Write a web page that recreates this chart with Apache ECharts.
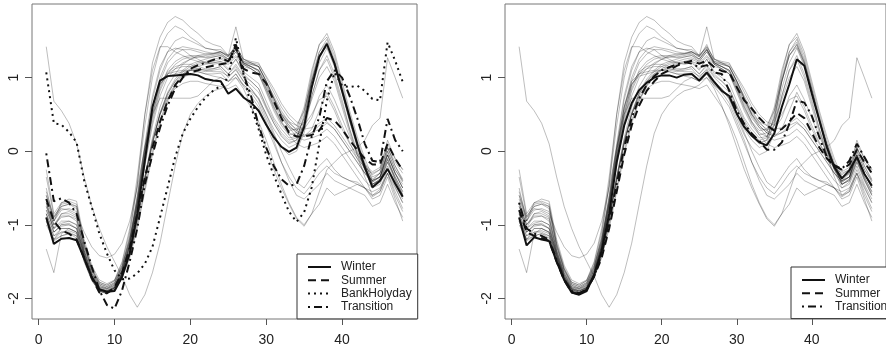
<!DOCTYPE html>
<html>
<head>
<meta charset="utf-8">
<title>Daily load profiles</title>
<script src="https://cdn.jsdelivr.net/npm/echarts@6/dist/echarts.min.js"></script>
<style>
  html, body { margin: 0; padding: 0; background: #fff; }
  #chart { width: 886px; height: 350px; }
</style>
</head>
<body>
<div id="chart"></div>
<script>
// half-hour slots of the day
var slots = [1,2,3,4,5,6,7,8,9,10,11,12,13,14,15,16,17,18,19,20,21,22,23,24,
             25,26,27,28,29,30,31,32,33,34,35,36,37,38,39,40,41,42,43,44,45,46,47,48];
var xTicks = [0, 10, 20, 30, 40];
var yTicks = [-2, -1, 0, 1];

// ------------- left panel: class means -------------
var winterL = [-0.90,-1.26,-1.19,-1.18,-1.21,-1.46,-1.71,-1.88,-1.91,-1.90,-1.71,-1.39,
               -0.85,-0.13,0.60,0.96,1.02,1.03,1.04,1.05,1.03,0.98,0.96,0.95,
               0.78,0.85,0.73,0.66,0.55,0.36,0.19,0.06,-0.01,0.05,0.33,0.87,
               1.28,1.46,1.19,0.82,0.46,0.10,-0.22,-0.49,-0.40,-0.24,-0.44,-0.62];
var summerL = [-0.65,-0.95,-1.08,-1.12,-1.20,-1.45,-1.72,-1.92,-1.93,-1.85,-1.65,-1.32,
               -0.85,-0.35,0.05,0.40,0.68,0.90,1.03,1.07,1.10,1.14,1.16,1.18,
               1.20,1.45,1.12,1.07,1.05,0.92,0.68,0.45,0.25,0.20,0.20,0.22,
               0.28,0.45,0.42,0.30,0.15,0.02,-0.10,-0.18,-0.18,0.10,-0.10,-0.26];
var bankL = [1.07,0.38,0.36,0.26,0.12,-0.40,-0.76,-1.12,-1.39,-1.62,-1.74,-1.73,
             -1.66,-1.53,-1.30,-0.90,-0.49,-0.08,0.24,0.44,0.60,0.73,0.82,0.89,
             1.00,1.54,1.07,0.60,0.30,-0.05,-0.33,-0.58,-0.82,-0.96,-0.83,-0.49,
             0.10,0.69,1.07,0.89,0.87,0.89,0.82,0.71,0.69,1.48,1.23,0.94];
var transL = [-0.03,-0.68,-0.64,-0.70,-0.85,-1.22,-1.57,-1.89,-2.09,-2.14,-1.89,-1.50,
              -1.05,-0.45,-0.05,0.32,0.62,0.85,1.00,1.12,1.17,1.20,1.24,1.27,
              1.22,1.42,1.05,0.75,0.35,0.05,-0.20,-0.38,-0.47,-0.45,-0.20,0.20,
              0.46,0.95,1.10,1.00,0.75,0.45,0.10,-0.13,-0.15,0.44,0.15,0.00];

// ------------- right panel: class means -------------
var winterR = [-0.90,-1.28,-1.17,-1.20,-1.22,-1.50,-1.75,-1.92,-1.95,-1.90,-1.68,-1.35,
               -0.85,-0.15,0.35,0.65,0.83,0.93,1.00,1.03,1.03,1.00,1.04,1.05,
               0.96,1.07,0.94,0.82,0.75,0.51,0.33,0.21,0.12,0.08,0.24,0.60,
               0.91,1.25,1.16,0.78,0.42,0.05,-0.22,-0.37,-0.26,-0.08,-0.31,-0.47];
var summerR = [-0.80,-1.10,-1.15,-1.18,-1.22,-1.50,-1.75,-1.92,-1.94,-1.88,-1.70,-1.45,
               -1.05,-0.55,-0.05,0.35,0.62,0.82,0.95,1.05,1.10,1.16,1.20,1.23,
               1.19,1.23,1.14,1.09,1.07,0.87,0.69,0.58,0.45,0.35,0.28,0.30,
               0.40,0.52,0.45,0.25,0.05,-0.10,-0.20,-0.25,-0.18,0.02,-0.15,-0.30];
var transR = [-0.70,-1.05,-1.12,-1.15,-1.20,-1.48,-1.74,-1.90,-1.93,-1.88,-1.70,-1.40,
              -0.95,-0.45,0.05,0.45,0.72,0.90,1.02,1.10,1.14,1.18,1.21,1.19,
              1.14,1.17,1.07,1.05,0.82,0.55,0.37,0.24,0.14,0.02,0.02,0.12,
              0.37,0.69,0.66,0.48,0.19,-0.08,-0.19,-0.24,-0.13,0.10,-0.08,-0.26];

// ------------- individual days (grey, same in both panels) -------------
var grayDays = [
  [-0.85,-1.22,-1.15,-1.12,-1.18,-1.45,-1.72,-1.88,-1.92,-1.88,-1.68,-1.30, -0.70,0.00,0.60,0.95,1.05,1.08,1.10,1.10,1.08,1.05,1.05,1.06, 0.95,1.05,0.90,0.82,0.72,0.50,0.30,0.15,0.05,0.10,0.40,0.95, 1.35,1.52,1.25,0.85,0.45,0.10,-0.20,-0.45,-0.40,-0.15,-0.40,-0.60],
  [-0.70,-1.10,-1.00,-0.98,-1.05,-1.38,-1.68,-1.86,-1.90,-1.85,-1.62,-1.22, -0.60,0.10,0.75,1.15,1.35,1.40,1.38,1.30,1.25,1.20,1.18,1.20, 1.10,1.25,1.05,0.95,0.85,0.60,0.38,0.20,0.10,0.15,0.50,1.05, 1.45,1.60,1.35,0.95,0.55,0.20,-0.10,-0.35,-0.30,-0.05,-0.30,-0.50],
  [-0.95,-1.20,-1.05,-1.05,-1.10,-1.42,-1.70,-1.87,-1.90,-1.86,-1.65,-1.28, -0.72,-0.05,0.50,0.90,1.05,1.12,1.15,1.15,1.12,1.10,1.12,1.15, 1.05,1.15,1.00,0.90,0.80,0.58,0.38,0.22,0.12,0.15,0.35,0.85, 1.20,1.40,1.15,0.78,0.40,0.05,-0.25,-0.50,-0.45,-0.20,-0.45,-0.65],
  [-0.60,-0.95,-0.70,-0.65,-0.68,-1.20,-1.55,-1.75,-1.80,-1.75,-1.50,-1.05, -0.35,0.50,1.20,1.55,1.75,1.83,1.78,1.68,1.60,1.50,1.45,1.42, 1.30,1.40,1.20,1.15,1.10,0.85,0.60,0.40,0.28,0.30,0.60,1.10, 1.45,1.55,1.30,0.90,0.50,0.15,-0.15,-0.40,-0.35,-0.10,-0.35,-0.55],
  [-0.50,-0.95,-0.75,-0.72,-0.75,-1.25,-1.60,-1.78,-1.82,-1.76,-1.52,-1.10, -0.45,0.35,1.00,1.40,1.60,1.70,1.65,1.55,1.48,1.40,1.38,1.35, 1.28,1.38,1.18,1.12,1.05,0.80,0.55,0.35,0.22,0.25,0.55,1.00, 1.35,1.48,1.22,0.85,0.45,0.10,-0.20,-0.45,-0.38,-0.10,-0.38,-0.60],
  [-0.75,-1.05,-0.85,-0.85,-0.90,-1.35,-1.65,-1.82,-1.86,-1.80,-1.58,-1.15, -0.45,0.50,1.10,1.42,1.42,1.35,1.30,1.25,1.22,1.20,1.20,1.22, 1.12,1.25,1.08,1.00,0.92,0.68,0.45,0.30,0.18,0.20,0.45,0.95, 1.30,1.45,1.20,0.82,0.42,0.08,-0.20,-0.42,-0.35,-0.05,-0.30,-0.50],
  [-0.90,-1.15,-1.10,-1.08,-1.12,-1.48,-1.74,-1.90,-1.93,-1.88,-1.66,-1.25, -0.62,0.05,0.60,0.92,1.02,1.05,1.08,1.10,1.10,1.08,1.10,1.12, 1.00,1.12,0.95,0.85,0.70,0.45,0.22,0.05,-0.05,0.00,0.25,0.75, 1.10,1.30,1.05,0.70,0.30,-0.05,-0.35,-0.60,-0.55,-0.30,-0.60,-0.82],
  [-0.80,-1.05,-0.95,-0.95,-1.00,-1.40,-1.70,-1.87,-1.90,-1.85,-1.68,-1.40, -0.95,-0.40,0.10,0.50,0.78,0.95,1.08,1.15,1.20,1.22,1.25,1.27, 1.22,1.35,1.20,1.18,1.15,0.95,0.75,0.55,0.40,0.28,0.22,0.25, 0.30,0.38,0.30,0.15,0.00,-0.15,-0.30,-0.40,-0.35,-0.05,-0.30,-0.45],
  [-0.85,-1.10,-1.00,-1.00,-1.05,-1.42,-1.72,-1.88,-1.92,-1.86,-1.70,-1.42, -1.00,-0.50,0.00,0.42,0.70,0.90,1.05,1.12,1.18,1.20,1.22,1.25, 1.20,1.30,1.18,1.15,1.10,0.90,0.68,0.48,0.32,0.20,0.15,0.18, 0.22,0.30,0.20,0.05,-0.10,-0.25,-0.40,-0.50,-0.42,-0.15,-0.35,-0.55],
  [-0.75,-1.00,-0.90,-0.88,-0.95,-1.38,-1.68,-1.85,-1.88,-1.83,-1.65,-1.35, -0.90,-0.35,0.18,0.60,0.88,1.05,1.18,1.25,1.30,1.32,1.33,1.35, 1.30,1.42,1.25,1.22,1.20,1.00,0.80,0.60,0.45,0.35,0.30,0.32, 0.38,0.45,0.35,0.20,0.05,-0.10,-0.22,-0.30,-0.25,0.05,-0.15,-0.30],
  [-0.90,-1.15,-1.05,-1.05,-1.10,-1.45,-1.75,-1.90,-1.93,-1.88,-1.72,-1.45, -1.05,-0.55,-0.05,0.38,0.68,0.88,1.02,1.10,1.15,1.18,1.20,1.22, 1.18,1.28,1.15,1.12,1.05,0.85,0.62,0.40,0.22,0.10,0.05,0.08, 0.12,0.20,0.10,-0.05,-0.20,-0.35,-0.50,-0.60,-0.52,-0.25,-0.48,-0.70],
  [-0.95,-1.20,-1.15,-1.12,-1.15,-1.50,-1.75,-1.90,-1.94,-1.88,-1.70,-1.40, -0.95,-0.40,0.10,0.50,0.75,0.90,1.00,1.05,1.08,1.05,1.02,1.00, 0.95,1.00,0.90,0.80,0.65,0.40,0.15,-0.15,-0.40,-0.60,-0.65,-0.55, -0.45,-0.30,-0.40,-0.45,-0.50,-0.55,-0.60,-0.75,-0.70,-0.45,-0.70,-0.90],
  [-1.00,-1.20,-1.10,-1.10,-1.15,-1.50,-1.76,-1.90,-1.93,-1.86,-1.68,-1.38, -0.90,-0.35,0.15,0.50,0.72,0.85,0.92,0.95,0.95,0.92,0.90,0.88, 0.85,0.90,0.75,0.60,0.40,0.15,-0.15,-0.45,-0.70,-0.90,-1.00,-0.85, -0.72,-0.50,-0.60,-0.55,-0.50,-0.45,-0.50,-0.65,-0.60,-0.35,-0.65,-0.95],
  [-0.85,-1.10,-1.02,-1.00,-1.05,-1.42,-1.72,-1.88,-1.90,-1.85,-1.68,-1.38, -0.92,-0.38,0.12,0.52,0.80,0.98,1.10,1.18,1.22,1.25,1.28,1.30, 1.25,1.38,1.22,1.20,1.18,1.02,0.85,0.65,0.50,0.40,0.35,0.50, 0.70,0.75,0.55,0.30,0.10,-0.05,-0.18,-0.28,-0.22,0.10,-0.10,-0.25],
  [-0.80,-1.05,-0.98,-0.95,-1.00,-1.40,-1.70,-1.86,-1.89,-1.84,-1.66,-1.36, -0.90,-0.35,0.12,0.52,0.78,0.95,1.05,1.10,1.12,1.10,1.08,1.08, 1.02,1.10,0.95,0.85,0.72,0.50,0.25,0.00,-0.22,-0.42,-0.50,-0.35, -0.20,-0.10,-0.25,-0.35,-0.40,-0.42,-0.50,-0.62,-0.55,-0.30,-0.55,-0.78],
  [-0.70,-1.00,-0.85,-0.82,-0.88,-1.35,-1.66,-1.84,-1.87,-1.82,-1.62,-1.28, -0.78,-0.15,0.40,0.82,1.05,1.18,1.25,1.28,1.28,1.27,1.28,1.30, 1.22,1.35,1.18,1.12,1.05,0.82,0.58,0.38,0.25,0.20,0.35,0.75, 1.10,1.25,1.00,0.65,0.30,0.00,-0.25,-0.42,-0.35,-0.05,-0.30,-0.50],
  [-0.65,-0.95,-0.80,-0.78,-0.82,-1.30,-1.62,-1.80,-1.84,-1.79,-1.58,-1.22, -0.70,-0.05,0.55,0.95,1.20,1.32,1.38,1.38,1.35,1.32,1.32,1.33, 1.25,1.38,1.20,1.15,1.08,0.88,0.65,0.45,0.32,0.28,0.40,0.70, 1.00,1.15,0.95,0.60,0.25,-0.05,-0.25,-0.40,-0.30,0.05,-0.20,-0.38],
  [-0.55,-0.90,-0.72,-0.70,-0.75,-1.28,-1.60,-1.80,-1.84,-1.78,-1.56,-1.20, -0.68,0.00,0.60,1.00,1.25,1.38,1.42,1.40,1.38,1.35,1.33,1.35, 1.28,1.45,1.22,1.18,1.15,0.95,0.72,0.50,0.38,0.30,0.30,0.45, 0.75,0.90,0.70,0.45,0.20,-0.02,-0.20,-0.32,-0.25,0.15,-0.10,-0.25],
  [-0.35,-0.88,-0.75,-0.72,-0.78,-1.30,-1.62,-1.82,-1.86,-1.80,-1.60,-1.25, -0.72,-0.10,0.45,0.85,1.10,1.22,1.28,1.30,1.30,1.28,1.30,1.32, 1.25,1.38,1.20,1.15,1.10,0.92,0.70,0.50,0.35,0.25,0.20,0.30, 0.55,0.80,0.60,0.35,0.12,-0.10,-0.30,-0.45,-0.38,0.00,-0.25,-0.42],
  [-0.25,-0.85,-0.70,-0.68,-0.72,-1.25,-1.58,-1.78,-1.82,-1.76,-1.55,-1.18, -0.65,0.05,0.70,1.10,1.35,1.50,1.55,1.50,1.45,1.40,1.38,1.38, 1.30,1.42,1.25,1.20,1.15,0.95,0.72,0.52,0.40,0.35,0.55,0.95, 1.30,1.42,1.18,0.80,0.42,0.10,-0.18,-0.38,-0.30,0.05,-0.20,-0.40],
  [1.42,0.68,0.55,0.38,0.10,-0.35,-0.75,-1.05,-1.30,-1.50,-1.70,-1.95, -2.12,-1.95,-1.65,-1.25,-0.72,-0.20,0.24,0.50,0.65,0.75,0.82,0.85, 0.90,1.00,0.85,0.62,0.35,0.05,-0.25,-0.50,-0.72,-0.92,-1.02,-0.85, -0.55,-0.25,-0.15,-0.05,0.00,0.05,0.15,0.35,0.45,1.27,1.00,0.72],
  [-1.33,-1.65,-1.12,-1.05,-1.10,-1.45,-1.72,-1.88,-1.92,-1.86,-1.66,-1.30, -0.75,-0.10,0.50,0.90,1.08,1.15,1.18,1.18,1.15,1.12,1.12,1.15, 1.05,1.18,1.02,0.95,0.85,0.62,0.42,0.25,0.15,0.18,0.45,0.95, 1.30,1.45,1.20,0.82,0.42,0.08,-0.22,-0.45,-0.40,-0.12,-0.38,-0.58],
  [-0.60,-0.90,-0.78,-0.80,-0.85,-1.10,-1.30,-1.42,-1.45,-1.40,-1.25,-0.95, -0.50,0.05,0.50,0.72,0.72,0.72,0.72,0.72,0.75,0.85,0.95,1.00, 0.95,1.05,0.88,0.75,0.60,0.35,0.10,-0.15,-0.35,-0.50,-0.58,-0.45, -0.30,-0.20,-0.30,-0.35,-0.40,-0.45,-0.50,-0.55,-0.50,-0.30,-0.50,-0.70],
  [-0.70,-1.00,-0.88,-0.88,-0.92,-1.35,-1.66,-1.84,-1.87,-1.82,-1.62,-1.30, -0.80,-0.20,0.35,0.75,1.00,1.12,1.20,1.25,1.28,1.30,1.32,1.35, 1.30,1.69,1.25,1.20,1.15,0.95,0.72,0.50,0.35,0.25,0.20,0.25, 0.35,0.40,0.30,0.15,0.00,-0.15,-0.30,-0.40,-0.35,0.00,-0.25,-0.40]
];

var leftNames = ['Winter', 'Summer', 'BankHolyday', 'Transition'];
var rightNames = ['Winter', 'Summer', 'Transition'];
var leftMeans = [winterL, summerL, bankL, transL];
var rightMeans = [winterR, summerR, transR];

// line type per class (R lty 1..4)
var dashFor = {
    Winter: 'solid',
    Summer: [8, 5],
    BankHolyday: [2, 4],
    Transition: [2, 4, 8, 4]
};

var fontName = 'Liberation Sans, Arial, sans-serif';

function toPoints(vals) {
    return vals.map(function (v, i) { return [slots[i], v]; });
}

function makeX(g) {
    return {
        type: 'value', gridIndex: g, min: -0.88, max: 49.88,
        axisLine: { show: false, onZero: false },
        axisTick: { show: true, length: 6, customValues: xTicks, lineStyle: { color: '#555' } },
        axisLabel: { customValues: xTicks, margin: 14, fontSize: 14, color: '#222', fontFamily: fontName },
        splitLine: { show: false }
    };
}

function makeY(g) {
    return {
        type: 'value', gridIndex: g, min: -2.28, max: 2.0,
        axisLine: { show: false, onZero: false },
        axisTick: { show: true, length: 7, customValues: yTicks, lineStyle: { color: '#555' } },
        axisLabel: { customValues: yTicks, rotate: 90, margin: 11, fontSize: 14, color: '#222', fontFamily: fontName },
        splitLine: { show: false }
    };
}

function makeLegend(names, left, top) {
    return {
        data: names,
        orient: 'vertical',
        left: left, top: top,
        selectedMode: false,
        backgroundColor: '#fff',
        borderColor: '#333',
        borderWidth: 1,
        padding: [7, 6, 6, 10],
        itemWidth: 23,
        itemHeight: 12,
        itemGap: 1.3,
        itemStyle: { opacity: 0 },
        textStyle: { fontSize: 12, lineHeight: 12, color: '#222', fontFamily: fontName, padding: [0, 0, 0, 5] }
    };
}

var series = [];
[0, 1].forEach(function (g) {
    // grey individual days first
    grayDays.forEach(function (day) {
        series.push({
            type: 'line', xAxisIndex: g, yAxisIndex: g,
            data: toPoints(day), symbol: 'none', silent: true, z: 1,
            lineStyle: { color: 'rgba(0,0,0,0.26)', width: 1 }
        });
    });
    var names = g === 0 ? leftNames : rightNames;
    var means = g === 0 ? leftMeans : rightMeans;
    names.forEach(function (name, k) {
        series.push({
            name: name, type: 'line', xAxisIndex: g, yAxisIndex: g,
            data: toPoints(means[k]), symbol: 'none', silent: true, z: 3,
            lineStyle: { color: '#111', width: 2, type: dashFor[name] }
        });
    });
});

var chart = echarts.init(document.getElementById('chart'));
chart.setOption({
    animation: false,
    backgroundColor: '#fff',
    grid: [
        { left: 32, top: 4, width: 385, height: 315, show: true, borderColor: '#777', borderWidth: 1 },
        { left: 505, top: 4, width: 386, height: 315, show: true, borderColor: '#777', borderWidth: 1 }
    ],
    xAxis: [makeX(0), makeX(1)],
    yAxis: [makeY(0), makeY(1)],
    legend: [makeLegend(leftNames, 297, 254), makeLegend(rightNames, 791, 267)],
    series: series
});
</script>
</body>
</html>
